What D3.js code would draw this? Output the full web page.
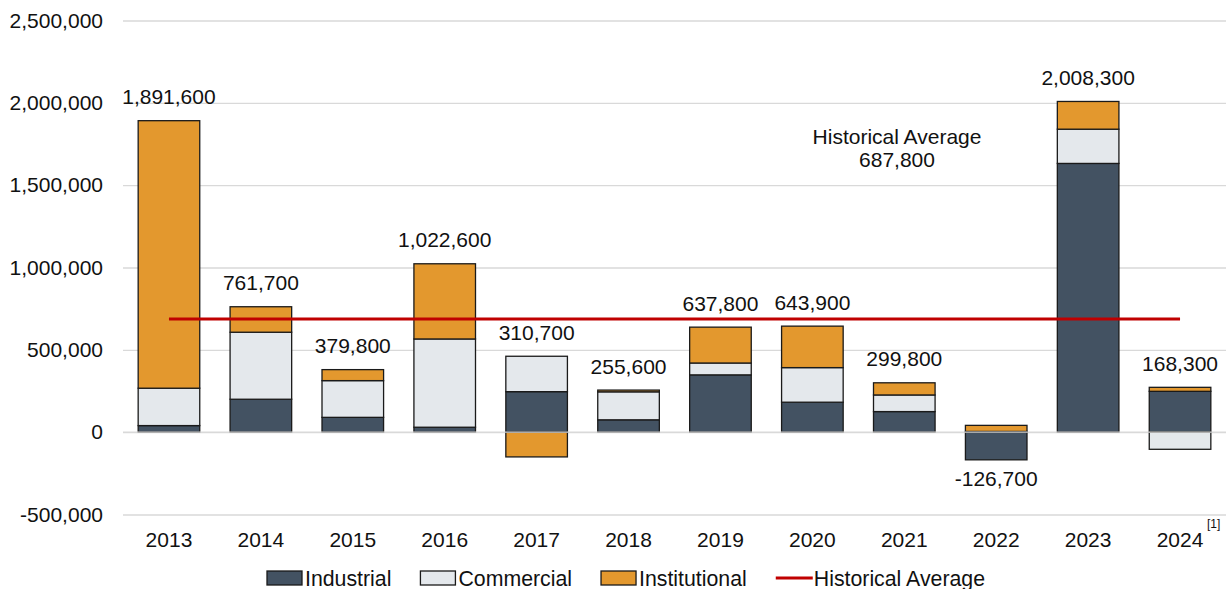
<!DOCTYPE html>
<html>
<head>
<meta charset="utf-8">
<script src="https://cdn.jsdelivr.net/npm/d3@7"></script>
<style>
  body { margin: 0; background: #fff; }
  svg { display: block; font-family: Arial, "Liberation Sans", sans-serif; }
</style>
</head>
<body>
<div id="chart"></div>
<script>
const w = 1226,
      h = 589;

// data
const years = ["2013", "2014", "2015", "2016", "2017", "2018", "2019", "2020", "2021", "2022", "2023", "2024"];
const industrial = [40000, 200000, 90000, 30000, 246000, 75000, 348000, 182000, 125000, -168000, 1632000, 248000];
const commercial = [227000, 407000, 223000, 536000, 215000, 170000, 72000, 210000, 101000, 4300, 208000, -104000];
const institutional = [1624600, 154700, 66800, 456600, -150300, 10600, 217800, 251900, 73800, 37000, 168300, 24300];
const totals = [1891600, 761700, 379800, 1022600, 310700, 255600, 637800, 643900, 299800, -126700, 2008300, 168300];
const historicalAverage = 687800;
const yTicks = [-500000, 0, 500000, 1000000, 1500000, 2000000, 2500000];

const seriesNames = ["Industrial", "Commercial", "Institutional"];
const colors = ["#435262", "#e4e8ec", "#e3982e"];
const avgColor = "#c00000";

const margin = {top: 20.5, right: 0, bottom: 74, left: 123};
const fontSize = 21;
// plain hyphen for negatives, like the original
const fmt = d3.formatLocale({decimal: ".", thousands: ",", grouping: [3], currency: ["", ""], minus: "-"}).format(",");

const svg = d3.select("#chart")
  .append("svg")
  .attr("width", w)
  .attr("height", h);

const rows = years.map((y, i) => ({
  year: y,
  Industrial: industrial[i],
  Commercial: commercial[i],
  Institutional: institutional[i],
  total: totals[i]
}));

const x = d3.scaleBand()
  .domain(years)
  .range([margin.left, w - margin.right])
  .paddingInner(0.33)
  .paddingOuter(0.165);

const y = d3.scaleLinear()
  .domain([-500000, 2500000])
  .range([h - margin.bottom - 0.5, margin.top]);

// gridlines + y labels
const yAxis = d3.axisLeft(y)
  .tickValues(yTicks)
  .tickSize(-(w - margin.left - margin.right))
  .tickPadding(20)
  .tickFormat(fmt);

const yAxisGroup = svg.append("g")
  .attr("transform", "translate(" + margin.left + ",0)")
  .call(yAxis);
yAxisGroup.select(".domain").remove();
yAxisGroup.selectAll("line").attr("stroke", "#d9d9d9").attr("stroke-width", 1.3);
yAxisGroup.selectAll("text")
  .attr("font-size", fontSize)
  .attr("fill", "#111")
  .attr("font-family", "Arial, 'Liberation Sans', sans-serif");

// stacked bars
const stack = d3.stack()
  .keys(seriesNames)
  .offset(d3.stackOffsetDiverging);
const stacked = stack(rows);

svg.append("g")
  .selectAll("g")
  .data(stacked)
  .join("g")
  .attr("fill", (d, i) => colors[i])
  .selectAll("rect")
  .data(d => d)
  .join("rect")
  .attr("x", d => x(d.data.year))
  .attr("width", x.bandwidth())
  .attr("y", d => y(Math.max(d[0], d[1])))
  .attr("height", d => Math.abs(y(d[0]) - y(d[1])))
  .attr("stroke", "#1a1a1a")
  .attr("stroke-width", 1.3);

// zero line over bars
svg.append("line")
  .attr("x1", margin.left)
  .attr("x2", w - margin.right)
  .attr("y1", y(0))
  .attr("y2", y(0))
  .attr("stroke", "#d9d9d9")
  .attr("stroke-width", 1.3);

// historical average
svg.append("line")
  .attr("x1", x(years[0]) + x.bandwidth() / 2)
  .attr("x2", x(years[years.length - 1]) + x.bandwidth() / 2)
  .attr("y1", y(historicalAverage))
  .attr("y2", y(historicalAverage))
  .attr("stroke", avgColor)
  .attr("stroke-width", 3);

// total labels
const stackTop = rows.map((r, i) => d3.max(stacked, s => s[i][1]));
const stackBottom = rows.map((r, i) => d3.min(stacked, s => s[i][0]));

svg.append("g")
  .selectAll("text")
  .data(rows)
  .join("text")
  .attr("x", d => x(d.year) + x.bandwidth() / 2)
  .attr("y", (d, i) => d.total >= 0 ? y(stackTop[i]) - 24 + 7.5 : y(stackBottom[i]) + 19 + 7.5)
  .attr("text-anchor", "middle")
  .attr("font-size", fontSize)
  .attr("fill", "#111")
  .text(d => fmt(d.total));

// annotation
const note = svg.append("text")
  .attr("x", 897)
  .attr("text-anchor", "middle")
  .attr("font-size", fontSize)
  .attr("fill", "#111");
note.append("tspan").attr("x", 897).attr("y", 143.5).text("Historical Average");
note.append("tspan").attr("x", 897).attr("y", 167).text(fmt(historicalAverage));

// x labels
const xAxisGroup = svg.append("g")
  .attr("transform", "translate(0," + (h - margin.bottom) + ")")
  .call(d3.axisBottom(x).tickSize(0).tickPadding(17));
xAxisGroup.select(".domain").remove();
xAxisGroup.selectAll("text")
  .attr("font-size", fontSize)
  .attr("fill", "#111")
  .attr("font-family", "Arial, 'Liberation Sans', sans-serif");

svg.append("text")
  .attr("x", x("2024") + x.bandwidth() / 2 + 27)
  .attr("y", 528)
  .attr("font-size", 12)
  .attr("fill", "#111")
  .text("[1]");

// legend
const legendItems = seriesNames.map((s, i) => ({name: s, color: colors[i], type: "rect"}));
legendItems.push({name: "Historical Average", color: avgColor, type: "line"});

let lx = 267;
const ly = 578;
legendItems.forEach(item => {
  const g = svg.append("g");
  if (item.type === "rect") {
    g.append("rect")
      .attr("x", lx)
      .attr("y", ly - 7)
      .attr("width", 35)
      .attr("height", 14)
      .attr("fill", item.color)
      .attr("stroke", "#1a1a1a")
      .attr("stroke-width", 1.3);
  } else {
    g.append("line")
      .attr("x1", lx)
      .attr("x2", lx + 37)
      .attr("y1", ly)
      .attr("y2", ly)
      .attr("stroke", item.color)
      .attr("stroke-width", 3);
  }
  const t = g.append("text")
    .attr("x", lx + 38)
    .attr("y", ly + 7.5)
    .attr("font-size", 21.3)
    .attr("fill", "#111")
    .text(item.name);
  lx += 38 + t.node().getComputedTextLength() + 29;
});
</script>
</body>
</html>
